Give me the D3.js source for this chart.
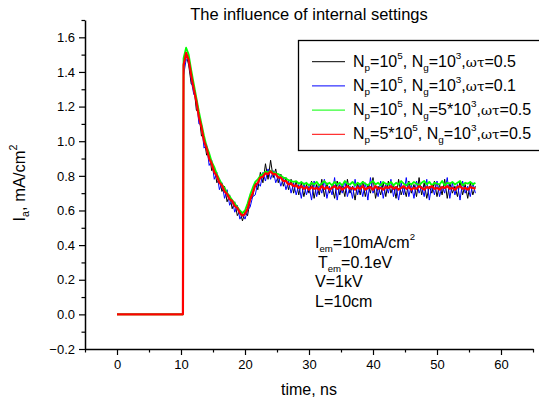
<!DOCTYPE html>
<html>
<head>
<meta charset="utf-8">
<script src="https://cdn.jsdelivr.net/npm/d3@7"></script>
<style>
  body { margin: 0; background: #fff; }
  svg { display: block; }
  text { font-family: Arial, "Liberation Sans", sans-serif; fill: #000; }
</style>
</head>
<body>
<div class="viz"></div>
<script>
//////////////////////////
// Data
//////////////////////////

// time grid of the sampled part: t = T_START + i * T_STEP, ns
const T_START = 10.4;
const T_STEP = 0.4;

// flat part before the pulse
const preTimes = [0, 10.3];
const preValues = [0, 0];

const seriesNames = ['black', 'blue', 'green', 'red'];

const blackValues = [
  1.42, 1.50, 1.44, 1.33, 1.32, 1.18, 1.16, 1.03, 1.02, 0.92,
  0.93, 0.83, 0.85, 0.76, 0.78, 0.71, 0.74, 0.65, 0.69, 0.61,
  0.65, 0.57, 0.60, 0.54, 0.59, 0.57, 0.66, 0.68, 0.76, 0.72,
  0.82, 0.76, 0.87, 0.78, 0.89, 0.79, 0.84, 0.76, 0.81, 0.74,
  0.79, 0.72, 0.78, 0.70, 0.77, 0.69, 0.76, 0.68, 0.75, 0.70,
  0.77, 0.67, 0.75, 0.69, 0.78, 0.68, 0.76, 0.70, 0.74, 0.67,
  0.77, 0.69, 0.75, 0.68, 0.78, 0.70, 0.74, 0.66, 0.76, 0.69,
  0.77, 0.68, 0.75, 0.70, 0.79, 0.67, 0.74, 0.69, 0.76, 0.68,
  0.77, 0.70, 0.75, 0.67, 0.78, 0.69, 0.74, 0.68, 0.77, 0.70,
  0.75, 0.68, 0.79, 0.69, 0.76, 0.67, 0.74, 0.70, 0.77, 0.68,
  0.75, 0.69, 0.78, 0.67, 0.76, 0.70, 0.74, 0.68, 0.77, 0.69,
  0.75, 0.67, 0.76, 0.69, 0.74
];

const blueValues = [
  1.38, 1.47, 1.47, 1.35, 1.27, 1.25, 1.10, 1.10, 0.96, 0.98,
  0.86, 0.89, 0.78, 0.82, 0.72, 0.76, 0.67, 0.72, 0.63, 0.66,
  0.59, 0.63, 0.55, 0.58, 0.55, 0.60, 0.62, 0.68, 0.69, 0.76,
  0.74, 0.82, 0.77, 0.84, 0.78, 0.83, 0.76, 0.80, 0.74, 0.79,
  0.72, 0.77, 0.70, 0.76, 0.69, 0.75, 0.67, 0.76, 0.69, 0.74,
  0.66, 0.77, 0.68, 0.75, 0.70, 0.78, 0.67, 0.74, 0.69, 0.79,
  0.66, 0.75, 0.70, 0.77, 0.68, 0.74, 0.67, 0.78, 0.69, 0.75,
  0.68, 0.76, 0.66, 0.79, 0.70, 0.74, 0.68, 0.77, 0.67, 0.75,
  0.70, 0.78, 0.68, 0.74, 0.66, 0.76, 0.69, 0.79, 0.68, 0.75,
  0.67, 0.77, 0.70, 0.74, 0.68, 0.78, 0.66, 0.75, 0.69, 0.77,
  0.68, 0.74, 0.70, 0.79, 0.67, 0.76, 0.69, 0.75, 0.66, 0.77,
  0.70, 0.74, 0.68, 0.76, 0.70
];

const greenValues = [
  1.48, 1.54, 1.50, 1.41, 1.33, 1.25, 1.17, 1.10, 1.03, 0.97,
  0.93, 0.88, 0.85, 0.81, 0.78, 0.75, 0.73, 0.70, 0.68, 0.66,
  0.64, 0.62, 0.60, 0.585, 0.60, 0.64, 0.69, 0.73, 0.765, 0.78,
  0.80, 0.81, 0.825, 0.82, 0.83, 0.82, 0.815, 0.81, 0.80, 0.79,
  0.785, 0.775, 0.77, 0.765, 0.77, 0.755, 0.765, 0.75, 0.76, 0.745,
  0.76, 0.75, 0.765, 0.745, 0.755, 0.77, 0.75, 0.76, 0.745, 0.765,
  0.75, 0.76, 0.745, 0.77, 0.755, 0.75, 0.765, 0.745, 0.76, 0.75,
  0.765, 0.755, 0.745, 0.76, 0.77, 0.75, 0.76, 0.745, 0.765, 0.755,
  0.75, 0.765, 0.745, 0.76, 0.75, 0.77, 0.755, 0.745, 0.76, 0.75,
  0.765, 0.755, 0.745, 0.76, 0.77, 0.75, 0.765, 0.745, 0.76, 0.755,
  0.75, 0.77, 0.745, 0.76, 0.755, 0.765, 0.75, 0.76, 0.77, 0.745,
  0.76, 0.755, 0.765, 0.75, 0.76
];

const redValues = [
  1.44, 1.51, 1.47, 1.38, 1.30, 1.23, 1.14, 1.08, 1.00, 0.96,
  0.90, 0.87, 0.82, 0.80, 0.76, 0.745, 0.71, 0.695, 0.665, 0.655,
  0.625, 0.615, 0.585, 0.57, 0.58, 0.61, 0.665, 0.70, 0.745, 0.76,
  0.79, 0.795, 0.815, 0.81, 0.825, 0.81, 0.81, 0.79, 0.79, 0.77,
  0.77, 0.75, 0.755, 0.74, 0.745, 0.73, 0.74, 0.725, 0.735, 0.72,
  0.735, 0.725, 0.73, 0.72, 0.74, 0.725, 0.735, 0.72, 0.73, 0.74,
  0.725, 0.735, 0.72, 0.73, 0.74, 0.725, 0.73, 0.72, 0.735, 0.725,
  0.74, 0.72, 0.73, 0.735, 0.72, 0.74, 0.725, 0.73, 0.72, 0.735,
  0.73, 0.74, 0.725, 0.735, 0.72, 0.73, 0.74, 0.725, 0.735, 0.72,
  0.73, 0.725, 0.74, 0.73, 0.72, 0.735, 0.73, 0.74, 0.725, 0.73,
  0.72, 0.735, 0.73, 0.74, 0.725, 0.73, 0.72, 0.735, 0.74, 0.725,
  0.73, 0.72, 0.735, 0.73, 0.725
];

const seriesValues = [blackValues, blueValues, greenValues, redValues];
const seriesColors = ['#000000', '#0000ff', '#00ff00', '#ff0000'];
const seriesWidths = [1, 1, 1.8, 2.2];

// legend rows as [text, mode] pieces
const legendLabels = [
  [['N'], ['p', 'sub'], ['=10'], ['5', 'sup'], [', N'], ['g', 'sub'], ['=10'], ['3', 'sup'], [','], ['ωτ', 'greek'], ['=0.5']],
  [['N'], ['p', 'sub'], ['=10'], ['5', 'sup'], [', N'], ['g', 'sub'], ['=10'], ['3', 'sup'], [','], ['ωτ', 'greek'], ['=0.1']],
  [['N'], ['p', 'sub'], ['=10'], ['5', 'sup'], [', N'], ['g', 'sub'], ['=5*10'], ['3', 'sup'], [','], ['ωτ', 'greek'], ['=0.5']],
  [['N'], ['p', 'sub'], ['=5*10'], ['5', 'sup'], [', N'], ['g', 'sub'], ['=10'], ['3', 'sup'], [','], ['ωτ', 'greek'], ['=0.5']]
];

const noteLines = [
  [['I'], ['em', 'sub'], ['=10mA/cm'], ['2', 'sup']],
  [['T'], ['em', 'sub'], ['=0.1eV']],
  [['V=1kV']],
  [['L=10cm']]
];

const xTicks = [0, 10, 20, 30, 40, 50, 60];
const xMinorTicks = [-5, 5, 15, 25, 35, 45, 55, 65];
const yTicks = [-0.2, 0.0, 0.2, 0.4, 0.6, 0.8, 1.0, 1.2, 1.4, 1.6];
const yMinorTicks = [-0.1, 0.1, 0.3, 0.5, 0.7, 0.9, 1.1, 1.3, 1.5, 1.7];

//////////////////////////
// D3 Stuff
//////////////////////////

const W = 539, H = 405;
const margins = { top: 20, right: 6, bottom: 56, left: 85 };
const width = W - margins.left - margins.right;
const height = H - margins.top - margins.bottom;

const root = d3.select('div.viz')
  .append('svg')
  .attr('width', W)
  .attr('height', H);

const svg = root.append('g')
  .attr('transform', 'translate(' + margins.left + ',' + margins.top + ')');

const xScale = d3.scaleLinear().domain([-5, 65]).range([0, width]);
const yScale = d3.scaleLinear().domain([-0.2, 1.7]).range([height, 0]);

// write text with sub/superscripts
function richText(sel, x, y, parts, size, subScale) {
  subScale = subScale || 0.65;
  const t = sel.append('text')
    .attr('x', x)
    .attr('y', y)
    .attr('font-size', size);
  let shift = 0;
  parts.forEach(function(p) {
    const mode = p[1];
    const target = mode === 'sub' ? size * 0.25 : mode === 'sup' ? -size * 0.5 : 0;
    const ts = t.append('tspan')
      .attr('dy', target - shift)
      .text(p[0]);
    if (mode === 'sub' || mode === 'sup') ts.attr('font-size', size * subScale);
    if (mode === 'greek') ts.attr('font-size', size * 0.85).style('font-family', '"DejaVu Serif", "Liberation Serif", serif');
    shift = target;
  });
  return t;
}

// minor ticks first, then major axes
svg.append('g')
  .attr('transform', 'translate(0,' + height + ')')
  .call(d3.axisBottom(xScale).tickValues(xMinorTicks).tickSize(3.5).tickSizeOuter(0).tickFormat(''))
  .call(g => g.select('.domain').remove())
  .call(g => g.selectAll('line').attr('stroke-width', 1.2));

svg.append('g')
  .call(d3.axisLeft(yScale).tickValues(yMinorTicks).tickSize(3.5).tickSizeOuter(0).tickFormat(''))
  .call(g => g.select('.domain').remove())
  .call(g => g.selectAll('line').attr('stroke-width', 1.2));

const xAxis = svg.append('g')
  .attr('transform', 'translate(0,' + height + ')')
  .call(d3.axisBottom(xScale).tickValues(xTicks).tickSize(6).tickSizeOuter(0).tickPadding(5))
  .call(g => g.select('.domain').attr('stroke-width', 1.5))
  .call(g => g.selectAll('line').attr('stroke-width', 1.2))
  .call(g => g.selectAll('text').attr('font-size', 13).style('font-family', 'Arial, "Liberation Sans", sans-serif'));

const yAxis = svg.append('g')
  .call(d3.axisLeft(yScale).tickValues(yTicks).tickSize(6).tickSizeOuter(0).tickPadding(4).tickFormat(d3.format('.1f')))
  .call(g => g.select('.domain').attr('stroke-width', 1.5))
  .call(g => g.selectAll('line').attr('stroke-width', 1.2))
  .call(g => g.selectAll('text').attr('font-size', 13).style('font-family', 'Arial, "Liberation Sans", sans-serif'));

// curves
const line = d3.line()
  .x(d => xScale(d[0]))
  .y(d => yScale(d[1]));

const curves = svg.append('g').attr('class', 'curves');
seriesValues.forEach(function(vals, k) {
  const pts = preTimes.map((t, i) => [t, preValues[i]])
    .concat(vals.map((v, i) => [T_START + i * T_STEP, v]));
  curves.append('path')
    .datum(pts)
    .attr('class', 'curve-' + seriesNames[k])
    .attr('fill', 'none')
    .attr('stroke', seriesColors[k])
    .attr('stroke-width', seriesWidths[k])
    .attr('stroke-linejoin', 'round')
    .attr('d', line);
});

// title
root.append('text')
  .attr('x', margins.left + width / 2)
  .attr('y', 20)
  .attr('text-anchor', 'middle')
  .attr('font-size', 16.5)
  .text('The influence of internal settings');

// axis labels
root.append('text')
  .attr('x', margins.left + width / 2)
  .attr('y', 395)
  .attr('text-anchor', 'middle')
  .attr('font-size', 16)
  .text('time, ns');

const yLab = root.append('g')
  .attr('transform', 'translate(25,183) rotate(-90)');
richText(yLab, 0, 0, [['I'], ['a', 'sub'], [', mA/cm'], ['2', 'sup']], 16.5)
  .attr('text-anchor', 'middle');

// legend
const legend = root.append('g').attr('class', 'legend');
legend.append('rect')
  .attr('x', 298.5)
  .attr('y', 40.5)
  .attr('width', 260)
  .attr('height', 110)
  .attr('fill', '#fff')
  .attr('stroke', '#000')
  .attr('stroke-width', 1.3);

legendLabels.forEach(function(parts, k) {
  const ly = 61.7 + k * 24.2;
  legend.append('line')
    .attr('x1', 312).attr('x2', 345)
    .attr('y1', ly).attr('y2', ly)
    .attr('stroke', seriesColors[k])
    .attr('stroke-width', 1);
  richText(legend, 353, ly + 5, parts, 16, 0.62);
});

// run conditions note
const noteX = [315, 318, 315, 315];
noteLines.forEach(function(parts, k) {
  richText(root, noteX[k], 248 + k * 19.7, parts, 16, 0.6);
});
</script>
</body>
</html>
